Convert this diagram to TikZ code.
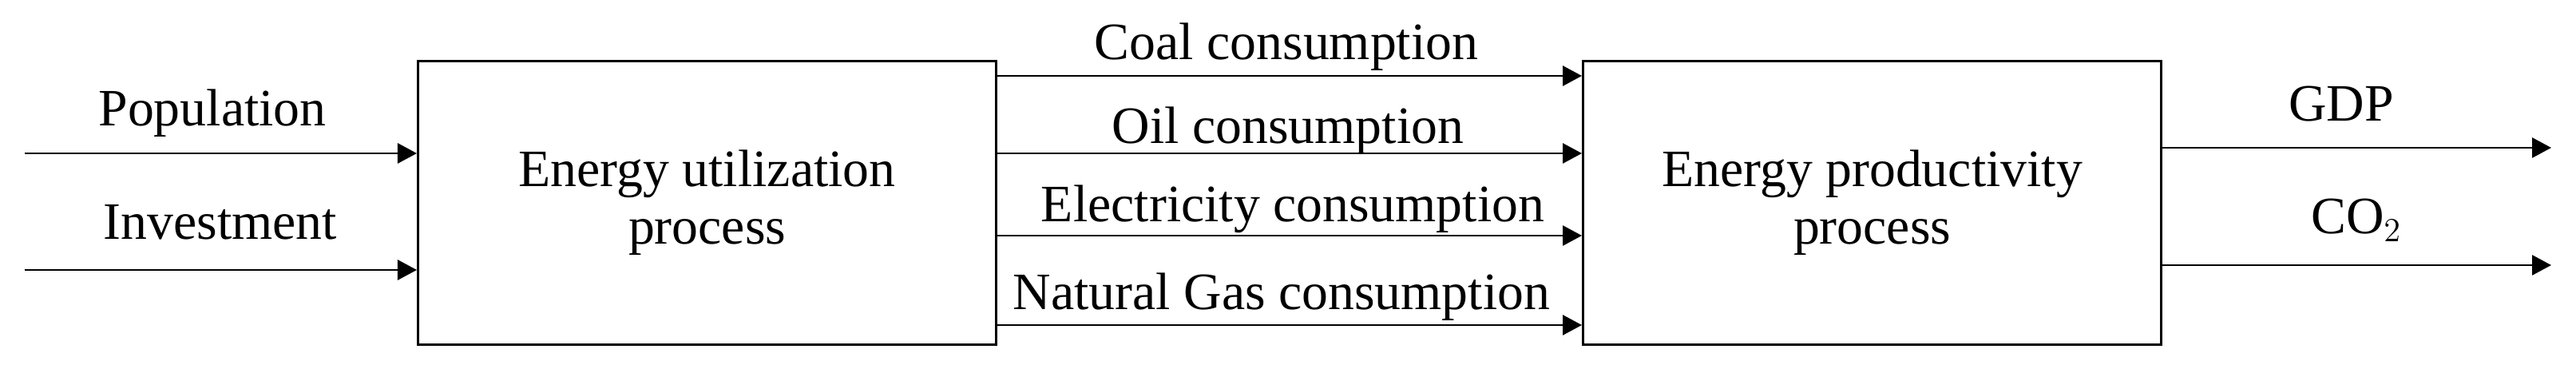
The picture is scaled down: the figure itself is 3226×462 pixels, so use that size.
\documentclass[tikz,border=0pt]{standalone}
\usepackage{fontspec}
\setmainfont{Liberation Serif}
\usetikzlibrary{arrows.meta}
\begin{document}
\begin{tikzpicture}[x=0.01cm,y=-0.01cm,
  every node/.style={font=\fontsize{18.7}{20.5}\selectfont},
  procbox/.style={draw, line width=0.8pt, minimum width=7.24cm, minimum height=3.55cm, inner sep=0pt, align=center, anchor=north west},
  arr/.style={line width=0.8pt, -{Triangle[length=0.24cm,width=0.25cm]}},
  lbl/.style={anchor=base, inner sep=0pt}]
\useasboundingbox (0,0) rectangle (3226,462);
\node[procbox] (u) at (522,75) {Energy utilization\\process};
\node[procbox] (p) at (1981,75) {Energy productivity\\process};
% inputs
\coordinate (i1) at (31,192);
\coordinate (i2) at (31,338);
\draw[arr] (i1) -- (i1 -| u.west);
\draw[arr] (i2) -- (i2 -| u.west);
\node[lbl] (lpop) at (266,158) {Population};
\node[lbl] (linv) at (276,300) {Investment};
% middle flows
\coordinate (m1) at (1246,95);
\coordinate (m2) at (1246,192);
\coordinate (m3) at (1246,295);
\coordinate (m4) at (1246,407);
\draw[arr] (m1 -| u.east) -- (m1 -| p.west);
\draw[arr] (m2 -| u.east) -- (m2 -| p.west);
\draw[arr] (m3 -| u.east) -- (m3 -| p.west);
\draw[arr] (m4 -| u.east) -- (m4 -| p.west);
\node[lbl] (lcoal) at (1611,75) {Coal consumption};
\node[lbl] (loil) at (1613,180) {Oil consumption};
\node[lbl] (lele) at (1619,278) {Electricity consumption};
\node[lbl] (lgas) at (1605,388) {Natural Gas consumption};
% outputs
\coordinate (o1) at (3195,185);
\coordinate (o2) at (3195,332);
\draw[arr] (o1 -| p.east) -- (o1);
\draw[arr] (o2 -| p.east) -- (o2);
\node[lbl] (lgdp) at (2932,152) {GDP};
\node[lbl] (lco2) at (2951,293) {CO$_2$};
\end{tikzpicture}
\end{document}
